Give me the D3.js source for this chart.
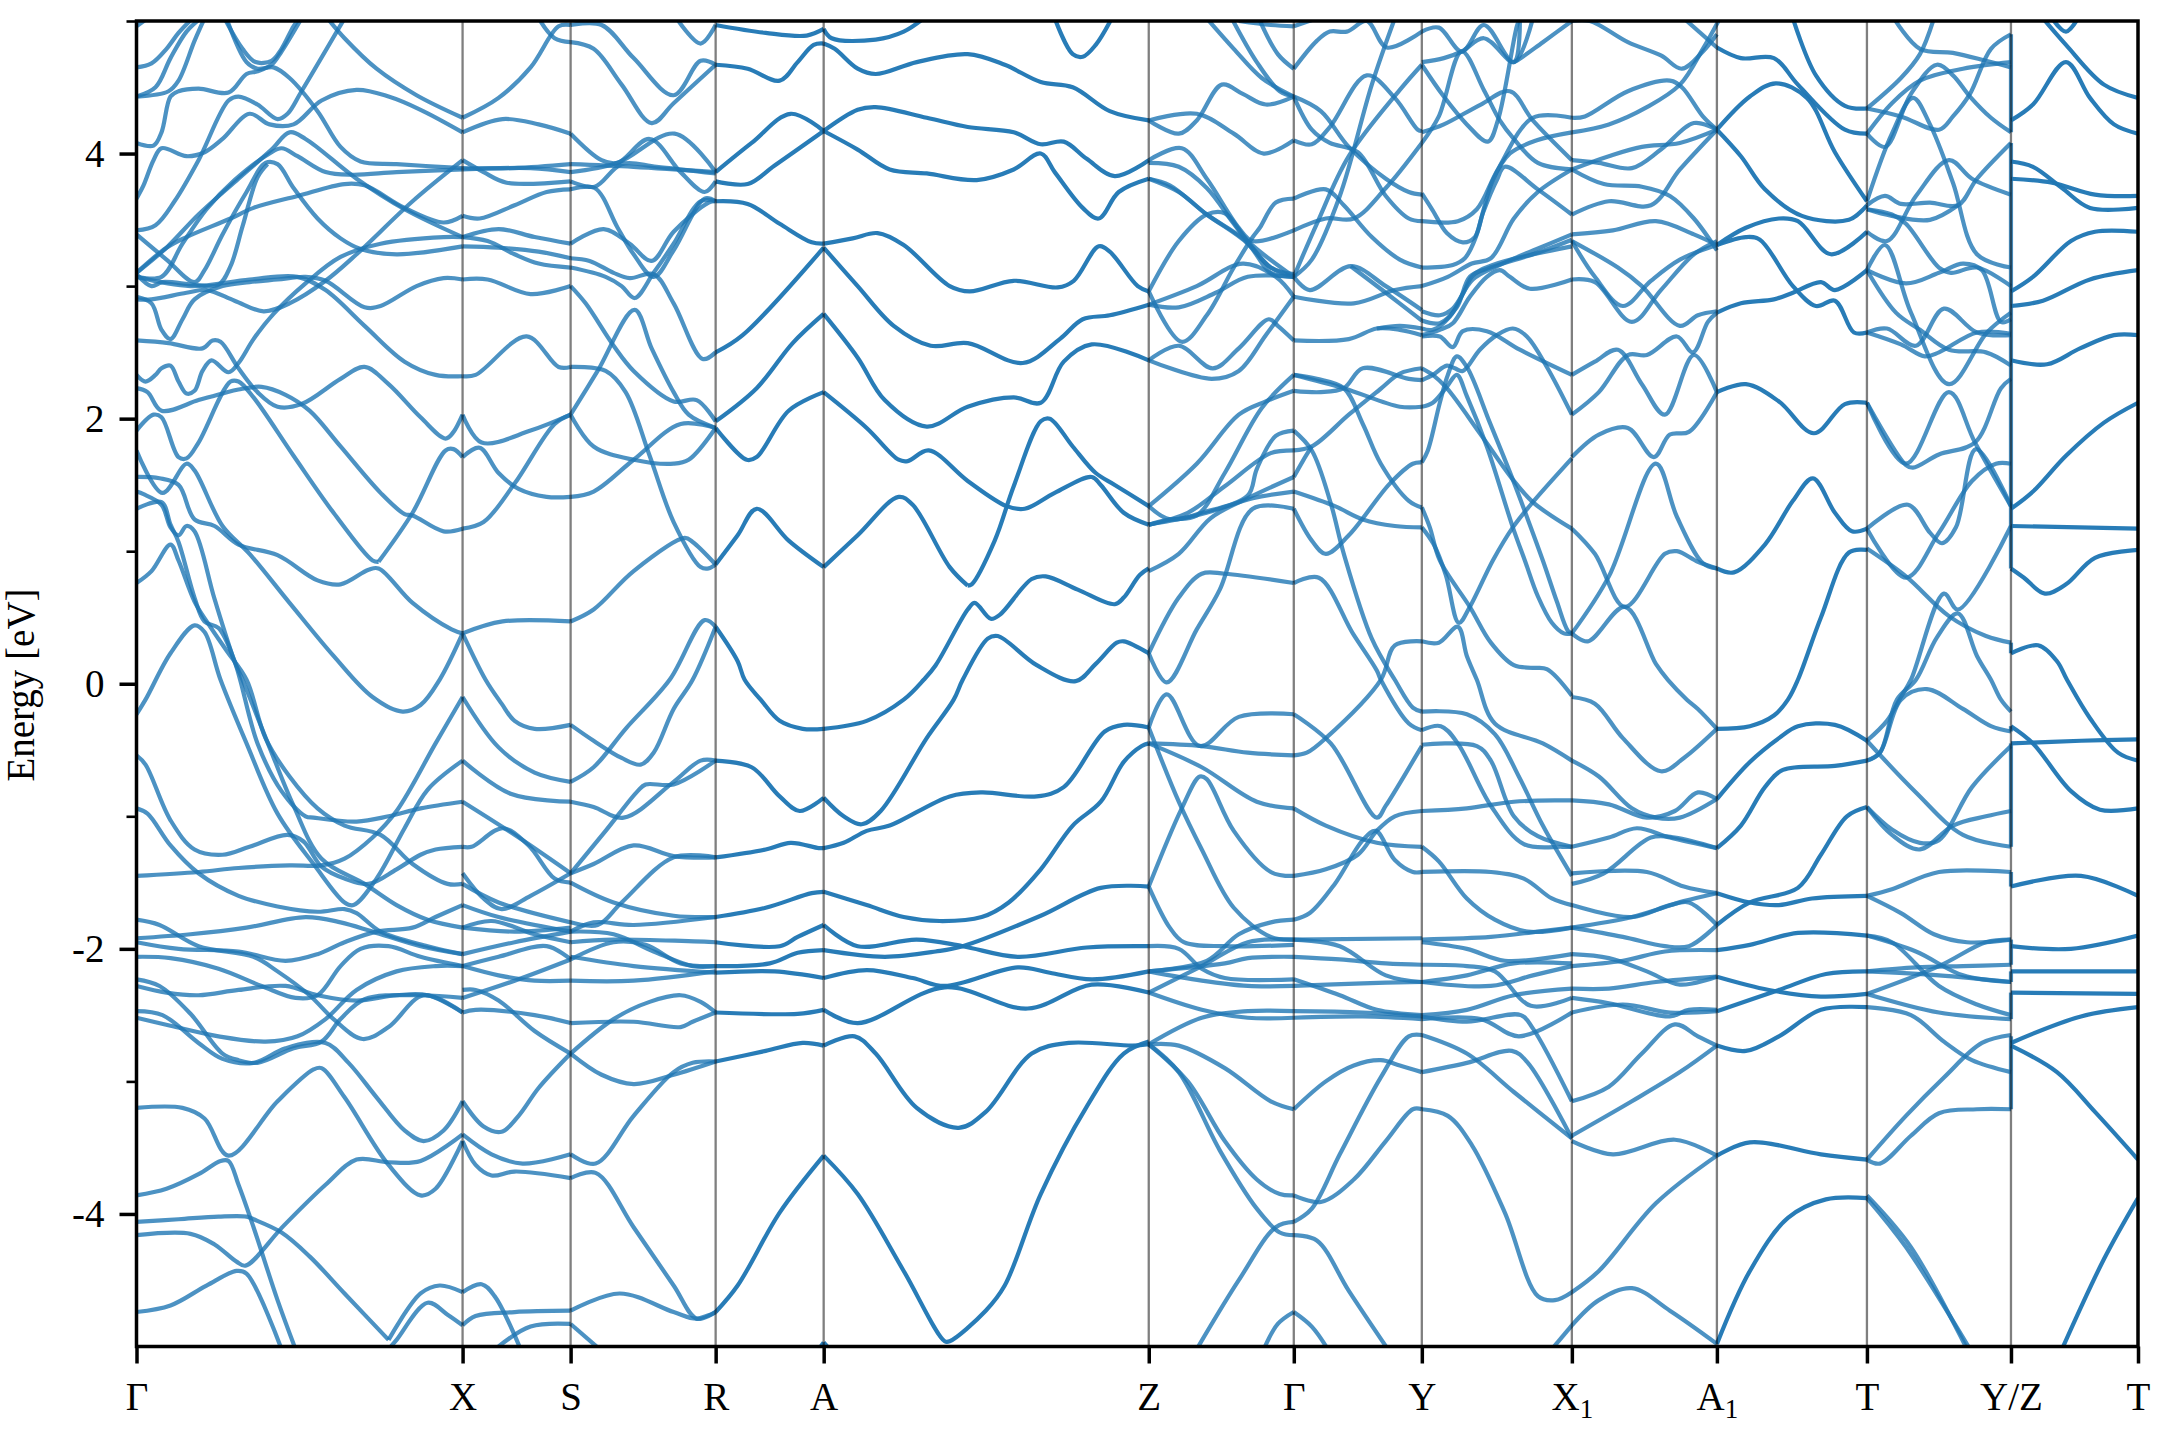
<!DOCTYPE html>
<html>
<meta charset="utf-8">
<head>
  <title>Band structure</title>
</head>
<style>
body { margin: 0; background: white; }
text { font-family: "Liberation Serif", serif; fill: black; }
.band { fill: none; stroke: rgb(31, 119, 180); stroke-width: 4.2; stroke-linejoin: round; }
.vline { stroke: black; stroke-opacity: 0.5; stroke-width: 2.3; }
.axis path { display: none; }
.axis line { stroke: black; stroke-width: 3.5; }
.minor line { stroke-width: 2.6; }
</style>
<body>
<svg width="2160" height="1440"></svg>
<script src="https://cdnjs.cloudflare.com/ajax/libs/d3/7.8.5/d3.min.js"></script>
<script>
// k path position of each symmetry point, and its label
var kTicks = [0, 326, 434, 579, 687, 1012, 1157, 1285, 1435, 1580, 1730, 1874, 2001];
var kLabels = ['Γ', 'X', 'S', 'R', 'A', 'Z', 'Γ', 'Y', 'X_1', 'A_1', 'T', 'Y/Z', 'T'];
var majorE = [-4, -2, 0, 2, 4];
var minorE = [-3, -1, 1, 3, 5];

// each band piece is a flat list: k, E, k, E, ...
var gammaX = [
[0,4.65,15,4.68,30,4.79,42,4.91,56,5.02],
[0,4.96,11,5.02],
[0,4.43,19,4.5,34,4.72,50,4.92,64,5.02],
[0,4.43,32,4.47,42,4.55,58,4.85,68,5.02],
[0,4.08,17,4.06,25,4.16,34,4.43,42,4.47,62,4.49,92,4.46,110,4.6,121,4.62,135,4.67,145,4.77,165,5.02],
[0,3.66,7,3.76,17,3.95,25,4.04,50,3.98,68,4.01,86,4.11,113,4.3,133,4.22,157,4.22,185,4.4,220,4.48,252,4.43,284,4.33,326,4.16],
[0,3.42,19,3.46,38,3.64,62,3.95,92,4.4,102,4.43,121,4.37,141,4.26,151,4.3,165,4.47,208,5.02],
[90,5.02,110,4.69,121,4.64,137,4.65,153,4.57,181,4.32,204,4.05,224,3.94,260,3.92,326,3.89],
[88,5.02,106,4.79,119,4.69,135,4.7,145,4.79,157,4.96,163,5.02],
[191,5.02,208,4.87,240,4.64,280,4.44,326,4.27],
[0,3.1,30,3.29,62,3.54,102,3.81,135,4.03,153,4.16,169,4.11,220,3.81,268,3.58,326,3.37],
[0,3.39,30,3.2,58,3.03,68,3.12,86,3.39,110,3.71,129,3.93,141,3.92,157,3.74,181,3.51,204,3.36,224,3.28,260,3.24,326,3.3],
[0,3.07,25,3.07,46,3.32,70,3.58,98,3.8,133,4,145,4.04,161,3.98,189,3.86,216,3.84,260,3.86,326,3.88],
[0,3.09,15,3,26,3.03,58,3.01,82,3.01,94,3.15,106,3.45,121,3.82,131,3.92],
[0,3.1,30,3.29,50,3.37,94,3.51,117,3.59,161,3.68,208,3.77,228,3.76,268,3.59,307,3.48,326,3.53],
[0,2.9,15,2.9,50,2.95,70,2.97,98,2.89,127,2.81,153,2.87,189,3.04,220,3.24,276,3.64,326,3.95],
[0,2.92,15,2.87,25,2.67,34,2.6,46,2.75,58,2.9,86,3,113,3.03,141,3.05,169,3.07,189,3.04,228,2.84,244,2.85,280,3,307,3.06,326,3.05],
[0,3.07,54,3,113,3.05,161,3.07,189,2.97,228,2.7,268,2.43,299,2.33,326,2.32],
[0,2.59,32,2.57,66,2.53,76,2.59,84,2.58,102,2.38,121,2.2,141,2.09,165,2.11,204,2.3,228,2.39,252,2.26,284,2.01,309,1.85,317,1.9,326,2.03],
[0,2.33,9,2.28,19,2.33,25,2.38,34,2.4,42,2.28,50,2.19,58,2.21,66,2.36,75,2.44,92,2.35,102,2.42,117,2.6,137,2.79,169,3.02,204,3.22,244,3.32,307,3.37,326,3.37],
[0,2.23,11,2.2,25,2.06,62,2.14,86,2.19,102,2.22,125,2.24,149,2.18,173,2.06,204,1.79,244,1.44,268,1.28,276,1.27,307,1.15,326,1.17],
[0,1.91,17,2.03,25,2.01,42,1.71,50,1.7,62,1.82,94,2.28,102,2.28,117,2.16,157,1.72,197,1.29,236,0.93,242,0.92],
[242,0.92,276,1.29,309,1.76,317,1.77,326,1.71],
[0,1.56,23,1.55,42,1.5,58,1.24,78,1.19,102,1.05,141,0.97,181,0.78,204,0.75,232,0.86,242,0.87,276,0.61,315,0.41,326,0.38],
[0,1.76,26,1.44,50,1.66,58,1.61,86,1.19,113,0.98,153,0.61,197,0.21,236,-0.1,266,-0.21,284,-0.16,303,0.03,326,0.38],
[0,1.45,7,1.43,25,1.35,34,1.18,42,1.12,50,1.19,58,1.15,78,0.64,98,0.17,106,0.03,133,-0.48,157,-0.92,185,-1.32,228,-1.51,260,-1.67,291,-1.78,326,-1.84],
[0,1.32,25,1.37,34,1.2,42,1.07,58,0.65,68,0.47,82,0.42,98,0.17,121,-0.45,145,-0.81,169,-1,177,-1.01,220,-1.04,252,-1,284,-0.94,326,-0.89],
[0,0.76,15,0.85,34,1.05,42,0.93,58,0.62,72,0.45,90,0.25,110,0.03,129,-0.41,153,-0.7,181,-0.94,208,-1.07,244,-1.14,276,-1.36,311,-1.51,326,-1.51],
[0,-0.23,9,-0.12,34,0.23,58,0.44,68,0.39,84,0.03,110,-0.45,141,-0.98,177,-1.36,208,-1.65,217,-1.67,240,-1.47,268,-1.09,291,-0.8,326,-0.58],
[0,-0.54,9,-0.61,34,-1.03,58,-1.25,86,-1.29,113,-1.23,151,-1.14,167,-1.19,185,-1.38,208,-1.47,232,-1.51,260,-1.4,284,-1.29,299,-1.25,326,-1.23],
[0,-1.45,62,-1.42,102,-1.39,153,-1.37,185,-1.37,208,-1.32,236,-1.16,260,-0.96,299,-0.45,326,-0.1],
[0,-0.94,11,-0.98,34,-1.22,62,-1.43,102,-1.6,141,-1.68,181,-1.72,208,-1.7,220,-1.73,244,-1.87,291,-1.98,326,-2.04],
[0,-1.78,23,-1.82,62,-1.98,117,-2.06,141,-2.17,173,-2.35,197,-2.53,226,-2.68,252,-2.59,287,-2.35,326,-2.48],
[0,-1.92,54,-1.89,110,-1.84,169,-1.76,204,-1.8,236,-1.87,284,-1.98,326,-2.04],
[0,-1.95,42,-2,102,-2.02,149,-2.09,181,-2.04,208,-1.95,240,-1.87,276,-1.84,299,-1.76,326,-1.67],
[0,-2.06,34,-2.07,82,-2.15,125,-2.28,159,-2.37,181,-2.35,204,-2.13,224,-2,252,-1.98,284,-2.06,326,-2.13],
[0,-2.23,23,-2.28,54,-2.49,86,-2.79,102,-2.84,121,-2.86,157,-2.75,185,-2.7,204,-2.53,228,-2.38,284,-2.35,326,-2.37],
[0,-2.28,30,-2.33,62,-2.35,102,-2.31,149,-2.28,181,-2.35,220,-2.39,260,-2.35,291,-2.35,326,-2.48],
[0,-2.47,26,-2.5,62,-2.71,86,-2.83,117,-2.86,149,-2.75,189,-2.71,212,-2.86,240,-3.12,268,-3.37,287,-3.45,307,-3.37,326,-3.15],
[0,-2.52,34,-2.58,82,-2.66,129,-2.7,161,-2.66,189,-2.53,220,-2.31,260,-2.17,299,-2.13,326,-2.13],
[0,-3.2,46,-3.2,68,-3.28,92,-3.56,141,-3.15,177,-2.91,185,-2.9,208,-3.12,252,-3.63,284,-3.86,299,-3.81,326,-3.45],
[0,-3.86,30,-3.81,62,-3.7,84,-3.6,92,-3.6,102,-3.78,117,-4.1,141,-4.65,159,-5.02],
[0,-4.06,42,-4.04,82,-4.02,110,-4.02,117,-4.04,145,-4.14,173,-4.32,208,-4.6,252,-4.95],
[252,-4.95,284,-4.6,303,-4.54,326,-4.59],
[0,-4.16,54,-4.15,78,-4.23,100,-4.36,109,-4.39,147,-4.09,189,-3.78,220,-3.59,252,-3.61,284,-3.6,326,-3.4],
[0,-4.74,34,-4.69,70,-4.54,100,-4.43,110,-4.45,145,-5.02],
[252,-5.02,260,-4.95,291,-4.67,311,-4.76,326,-4.84]
];

var xS = [
[402,5.02,418,4.87,434,4.84],
[326,4.27,362,4.42,394,4.65,422,4.96,434,4.97],
[326,4.16,366,4.26,402,4.22,434,4.15],
[326,3.89,378,3.89,434,3.92],
[326,3.88,394,3.89,434,3.86],
[326,3.95,347,3.86,370,3.78,434,3.79],
[326,3.53,343,3.51,378,3.61,410,3.71,434,3.73],
[326,3.37,362,3.43,398,3.37,434,3.32],
[326,3.37,351,3.34,378,3.24,402,3.17,434,3.14],
[326,3.3,362,3.29,402,3.26,434,3.21],
[326,3.05,351,3.05,394,2.94,434,3],
[326,2.32,339,2.33,390,2.62,422,2.39,434,2.39],
[326,2.03,345,1.82,394,1.91,434,2.03],
[326,1.71,343,1.78,362,1.59,382,1.47,410,1.41,434,1.41],
[326,1.17,347,1.22,378,1.51,418,1.96,434,2.03],
[326,0.38,366,0.47,434,0.47],
[326,0.38,349,0.03,365,-0.15,378,-0.28,398,-0.34,434,-0.31],
[326,-0.58,374,-0.83,434,-0.89],
[326,-0.1,362,-0.48,398,-0.67,434,-0.74],
[326,-0.89,378,-1.14,434,-1.43],
[326,-1.23,335,-1.23,366,-1.09,392,-1.22,418,-1.47,434,-1.5],
[326,-1.43,347,-1.62,365,-1.7,394,-1.6,434,-1.43],
[326,-1.51,362,-1.65,434,-1.8],
[326,-1.67,362,-1.76,434,-1.87],
[326,-1.84,355,-1.79,398,-1.89,434,-1.95],
[326,-1.84,378,-1.87,434,-1.84],
[326,-2.04,378,-1.95,434,-1.87],
[326,-2.13,362,-2.06,410,-1.98,434,-2.08],
[326,-2.13,362,-2.2,398,-2.24,434,-2.24],
[326,-2.31,339,-2.31,362,-2.39,398,-2.62,434,-2.79],
[326,-2.37,378,-2.24,434,-2.08],
[326,-2.48,339,-2.46,398,-2.5,434,-2.56],
[326,-3.15,347,-3.34,365,-3.38,382,-3.26,402,-3.05,434,-2.79],
[326,-3.4,355,-3.55,386,-3.62,434,-3.55],
[326,-3.45,339,-3.63,355,-3.71,378,-3.68,434,-3.73],
[326,-4.59,345,-4.53,358,-4.62,384,-5.02],
[326,-4.84,339,-4.77,378,-4.74,434,-4.73],
[362,-5,394,-4.85,434,-4.83]
];

var sR = [
[434,4.84,457,4.79,485,4.52,515,4.23,537,4.38,579,4.67],
[434,4.97,465,4.97,497,4.72,537,4.44,564,4.7,579,4.67],
[540,5.02,564,4.83,579,4.97],
[434,4.15,465,3.95,481,3.93,513,4.11,544,3.86,568,3.71,579,3.79],
[434,3.86,481,3.93,538,4.15,579,3.86],
[434,3.92,497,3.9,579,3.86],
[434,3.79,458,3.75,485,3.92,520,3.9,579,3.85],
[434,3.73,458,3.74,481,3.44,497,3.24,517,3.07,537,3.27,568,3.66,579,3.64],
[434,3.32,467,3.43,493,3.32,515,3.19,537,3.41,572,3.63,579,3.64],
[434,3.21,453,3.19,477,3.1,493,3.06,517,3.09,537,2.87,566,2.45,579,2.5],
[434,3.14,469,3.07,485,3,498,2.91,517,3.1,537,3.32,564,3.64,579,3.64],
[434,3,449,2.87,477,2.55,497,2.36,537,2.13,560,2.14,579,1.98],
[434,2.39,469,2.36,489,2.2,513,1.72,537,1.22,564,0.88,572,0.87,579,0.9],
[434,2.03,457,1.79,497,1.69,537,1.66,552,1.69,579,1.93],
[434,2.03,461,2.36,498,2.82,515,2.53,537,2.2,552,2.03,579,1.93],
[434,1.41,457,1.45,497,1.69,544,1.96,579,1.93],
[434,0.47,457,0.56,497,0.85,548,1.1,556,1.07,579,0.9],
[434,-0.74,457,-0.63,489,-0.34,533,0.03,568,0.48,579,0.43],
[434,-0.31,457,-0.43,485,-0.56,504,-0.61,517,-0.52,537,-0.19,556,0.03,579,0.43],
[434,-0.89,457,-0.93,487,-1.01,537,-0.74,564,-0.58,579,-0.58],
[434,-1.43,469,-1.11,501,-0.81,509,-0.76,537,-0.76,579,-0.58],
[434,-1.43,457,-1.36,497,-1.22,537,-1.3,579,-1.31],
[434,-1.5,477,-1.65,537,-1.75,579,-1.76],
[434,-1.8,461,-1.82,485,-1.65,537,-1.31,579,-1.31],
[434,-1.87,457,-1.8,497,-1.82,579,-1.76],
[434,-1.95,477,-1.93,579,-1.95],
[434,-1.87,477,-1.89,517,-2.02,556,-2.13,579,-2.13],
[434,-2.08,477,-1.95,509,-1.97,544,-2.11,579,-2.13],
[434,-2.06,497,-2.13,579,-2.18],
[434,-2.24,497,-2.24,579,-2.17],
[434,-2.56,497,-2.55,544,-2.59,556,-2.55,579,-2.48],
[434,-2.79,477,-2.53,513,-2.4,544,-2.35,564,-2.4,579,-2.48],
[434,-2.79,465,-2.95,497,-3.02,537,-2.95,579,-2.85],
[434,-3.55,459,-3.62,497,-3.26,537,-2.93,556,-2.86,579,-2.85],
[434,-3.73,459,-3.69,497,-4.1,537,-4.54,560,-4.79,579,-4.74],
[434,-4.73,483,-4.6,537,-4.74,560,-4.79,579,-4.74],
[434,-4.83,463,-5.02]
];

var rA = [
[579,4.97,629,4.91,670,4.89,687,4.94],
[579,4.67,611,4.64,643,4.55,661,4.69,677,4.82,687,4.83],
[579,3.86,615,4.08,654,4.3,687,4.17],
[579,3.79,611,3.77,638,3.91,687,4.17],
[579,3.64,611,3.62,643,3.47,675,3.33,687,3.32],
[579,2.5,606,2.63,687,3.29],
[579,1.98,620,2.23,656,2.57,687,2.79],
[579,1.93,610,1.69,620,1.71,652,2.06,687,2.2],
[579,0.9,601,1.12,620,1.32,652,1.08,687,0.88],
[579,0.43,601,0.17,608,0.03,624,-0.12,643,-0.28,666,-0.34,687,-0.34],
[579,-0.58,615,-0.63,643,-0.85,663,-0.96,687,-0.86],
[579,-1.31,629,-1.25,654,-1.2,682,-1.24,687,-1.24],
[579,-1.76,629,-1.69,675,-1.58,687,-1.57],
[579,-1.95,643,-1.98,661,-1.91,687,-1.82],
[579,-2.13,633,-2.11,661,-2.03,687,-2.01],
[579,-2.18,638,-2.17,687,-2.22],
[579,-2.48,661,-2.49,687,-2.46],
[579,-2.85,629,-2.77,666,-2.71,687,-2.73],
[579,-4.74,601,-4.54,643,-3.99,687,-3.56],
[682,-5.02,687,-4.97]
];

var aZ = [
[687,-4.97,693,-5.02],
[687,4.94,695,4.87,739,4.86,767,4.92,787,5.02],
[687,4.83,698,4.79,721,4.64,739,4.6,780,4.69,831,4.75,868,4.67,904,4.54,936,4.5,973,4.32,1012,4.25],
[918,5.02,936,4.75,946,4.73,959,4.82,975,5.02],
[687,4.17,721,4.33,739,4.35,790,4.27,831,4.2,877,4.16,904,4.07,927,4.09,950,3.96,978,3.83,1012,3.95],
[687,4.17,721,4.03,753,3.88,790,3.85,840,3.8,877,3.88,904,4,918,3.86,946,3.59,962,3.51,982,3.71,1012,3.81],
[687,3.32,716,3.36,741,3.4,767,3.31,813,3,833,2.96,877,3.04,921,2.99,937,3.04,962,3.3,973,3.26,1001,3,1012,2.96],
[687,3.29,721,3,757,2.7,794,2.55,831,2.57,886,2.42,923,2.6,946,2.75,973,2.78,1012,2.86],
[687,2.79,721,2.46,748,2.14,790,1.94,831,2.09,877,2.16,904,2.12,927,2.43,955,2.56,1012,2.44],
[687,2.2,730,1.93,762,1.69,771,1.68,792,1.76,831,1.53,870,1.34,888,1.32,918,1.44,955,1.56,964,1.5,987,1.29,1012,1.2],
[831,0.74,835,0.75,858,1.08,877,1.49,904,1.98,913,2,936,1.79,959,1.59,978,1.5,1012,1.34],
[687,0.88,721,1.12,762,1.41,776,1.35,813,0.88,831,0.74],
[687,-0.34,730,-0.28,767,-0.12,787,0.03,799,0.14,831,0.56,838,0.61,854,0.49,863,0.52,895,0.79,909,0.81,941,0.71,978,0.6,987,0.65,1003,0.82,1012,0.87],
[687,-0.86,707,-1,725,-1.06,744,-0.96,790,-0.41,817,-0.12,826,0.03,851,0.34,861,0.36,900,0.14,939,0.02,959,0.15,980,0.31,987,0.32,1012,0.23],
[687,-1.24,707,-1.2,730,-1.11,753,-1.07,813,-0.85,845,-0.82,900,-0.85,927,-0.78,968,-0.36,987,-0.31,1012,-0.33],
[687,-1.57,730,-1.67,767,-1.76,803,-1.79,845,-1.76,872,-1.65,904,-1.4,936,-1.07,964,-0.89,987,-0.59,1005,-0.47,1012,-0.45],
[687,-1.82,721,-1.98,780,-1.93,826,-1.98,881,-2.06,950,-1.99,1012,-1.98],
[687,-2.01,748,-2.06,799,-2.02,826,-1.98,904,-1.75,964,-1.54,1012,-1.53],
[687,-2.22,730,-2.16,776,-2.22,808,-2.28,881,-2.14,913,-2.18,955,-2.23,1012,-2.17],
[687,-2.46,721,-2.56,808,-2.29,891,-2.45,955,-2.27,1012,-2.33],
[687,-2.73,718,-2.66,739,-2.79,780,-3.2,822,-3.35,849,-3.23,895,-2.79,932,-2.71,996,-2.73,1012,-2.72],
[687,-3.56,721,-3.85,767,-4.43,808,-4.96,813,-4.96,849,-4.73,868,-4.54,904,-3.85,950,-3.19,987,-2.79,1012,-2.7]
];

var zGamma = [
[1070,5.02,1097,4.79,1125,4.57,1157,4.43],
[1095,5.02,1120,4.69,1143,4.47,1157,4.43],
[1122,5.02,1141,4.75,1157,4.64],
[1102,5,1134,4.97,1157,4.96],
[1012,4.25,1042,4.15,1060,4.25,1085,4.52,1106,4.45,1129,4.37,1157,4.43],
[1012,4.25,1060,4.3,1097,4.15,1127,4,1157,4.1],
[1012,3.95,1045,4.04,1070,3.81,1102,3.44,1116,3.34,1157,3.42],
[1012,3.93,1042,3.9,1070,3.74,1097,3.47,1118,3.27,1134,3.14,1157,3.07],
[1012,3.81,1042,3.71,1070,3.54,1111,3.32,1134,3.1,1157,3.07],
[1012,3.81,1033,3.76,1070,3.54,1106,3.36,1134,3.14,1157,3.09],
[1012,2.96,1042,3.34,1070,3.54,1088,3.55,1111,3.34,1157,3.07],
[1012,2.96,1045,2.58,1070,2.78,1097,3.14,1116,3.37,1123,3.44,1139,3.63,1157,3.66],
[1012,2.86,1042,2.84,1079,2.95,1111,3.07,1157,3.07],
[1012,2.86,1060,3,1106,3.17,1139,3.07,1157,2.92],
[1012,2.44,1042,2.55,1076,2.38,1102,2.53,1132,2.75,1141,2.7,1157,2.59],
[1012,2.44,1075,2.3,1102,2.36,1129,2.63,1157,2.92],
[1012,1.34,1060,1.66,1102,2.03,1129,2.13,1157,2.21],
[1012,1.2,1033,1.24,1060,1.27,1088,1.59,1125,2.08,1157,2.33],
[1012,1.2,1051,1.29,1088,1.49,1134,1.74,1157,1.76],
[1012,1.34,1033,1.24,1065,1.29,1111,1.42,1120,1.62,1139,1.87,1157,1.91],
[1012,1.2,1065,1.28,1116,1.4,1157,1.45],
[1012,0.85,1042,0.98,1074,1.25,1111,1.4,1157,1.56],
[1012,0.23,1042,0.65,1065,0.83,1088,0.83,1157,0.76],
[1012,0.23,1030,0.01,1060,0.41,1083,0.71,1116,1.32,1157,1.32],
[1012,-0.33,1030,-0.08,1063,-0.47,1102,-0.25,1157,-0.23],
[1012,-0.45,1065,-0.47,1111,-0.52,1157,-0.54],
[1012,-0.33,1042,-0.89,1065,-1.25,1097,-1.69,1134,-1.91,1157,-1.93],
[1012,-0.45,1065,-0.63,1120,-0.89,1157,-0.94],
[1012,-1.53,1045,-0.94,1063,-0.7,1070,-0.72,1097,-1.11,1134,-1.42,1157,-1.45],
[1012,-1.53,1033,-1.84,1047,-1.95,1088,-1.98,1157,-1.97],
[1012,-1.98,1042,-2,1065,-2.15,1088,-2.22,1157,-2.23],
[1012,-2.17,1065,-2.24,1111,-2.28,1157,-2.28],
[1012,-2.17,1070,-2.09,1102,-1.89,1134,-1.8,1157,-1.78],
[1012,-2.33,1065,-2.13,1111,-1.95,1157,-1.93],
[1012,-2.17,1088,-2.11,1111,-2.07,1157,-2.06],
[1012,-2.33,1065,-2.46,1111,-2.52,1157,-2.52],
[1012,-2.72,1065,-2.52,1111,-2.47,1157,-2.47],
[1012,-2.72,1042,-2.73,1088,-2.9,1134,-3.15,1157,-3.21],
[1012,-2.72,1051,-3,1088,-3.45,1120,-3.74,1143,-3.85,1157,-3.86],
[1012,-2.72,1042,-2.93,1083,-3.52,1120,-3.96,1143,-4.14,1157,-4.16],
[1060,-5.02,1102,-4.5,1139,-4.1,1157,-4.06],
[1127,-5.02,1141,-4.83,1157,-4.74]
];

var gammaY = [
[1157,4.96,1180,5.02],
[1157,4.64,1180,4.85,1193,4.92,1210,4.92,1230,5,1250,4.8,1285,4.92],
[1157,4.43,1184,4.32,1212,4.05,1249,3.81,1272,3.71,1285,3.69],
[1157,4.43,1175,4.18,1193,4.08,1221,4.01,1249,3.68,1272,3.51,1285,3.49],
[1157,4.1,1175,4.07,1193,4.2,1230,4.59,1258,4.42,1281,4.18,1285,4.17],
[1157,3.66,1189,3.73,1207,3.61,1235,3.37,1263,3.2,1285,3.14],
[1157,3.42,1189,3.51,1217,3.51,1249,3.74,1285,4.08],
[1157,3.07,1180,3.47,1212,3.98,1263,4.48,1285,4.67],
[1157,3.07,1175,3.2,1203,3.68,1235,4.52,1258,5.02],
[1157,3.07,1173,2.97,1214,3.15,1249,3,1285,2.82],
[1214,3.15,1249,2.95,1285,2.74],
[1157,2.92,1217,2.87,1258,2.97,1285,3],
[1157,2.59,1212,2.6,1240,2.68,1263,2.67,1285,2.63],
[1240,2.68,1263,2.7,1285,2.68],
[1157,2.21,1184,2.2,1207,2.23,1226,2.38,1272,2.3,1285,2.29],
[1157,2.33,1207,2.23,1263,2.09,1285,2.09],
[1157,1.76,1175,1.79,1212,2.03,1243,2.22,1263,2.34,1285,2.38],
[1157,2.33,1180,2.3,1207,2.23,1226,1.96,1244,1.66,1272,1.38,1285,1.33],
[1157,1.56,1166,1.68,1175,1.79],
[1157,1.91,1175,1.76,1194,1.36,1207,0.98,1235,0.34,1258,0.03,1276,-0.18,1285,-0.21],
[1157,1.45,1198,1.34,1226,1.24,1258,1.19,1285,1.18],
[1157,1.32,1175,1.08,1189,0.98,1212,1.12,1253,1.51,1276,1.66,1285,1.67],
[1157,0.76,1182,0.8,1216,0.38,1240,0.1,1244,0.03,1272,-0.3,1285,-0.35],
[1157,-0.23,1194,-0.45,1240,-1.01,1249,-0.92,1285,-0.47],
[1157,-0.54,1170,-0.52,1189,-0.41,1244,0.03,1258,0.29,1285,0.32],
[1157,-0.94,1189,-1.07,1240,-1.2,1285,-1.23],
[1157,-1.45,1189,-1.4,1221,-1.29,1240,-1.11,1258,-1,1285,-0.96],
[1157,-1.78,1173,-1.73,1198,-1.51,1226,-1.18,1239,-1.11,1258,-1.33,1276,-1.42,1285,-1.42],
[1157,-1.93,1285,-1.92],
[1157,-1.93,1203,-1.98,1249,-2.2,1285,-2.25],
[1157,-2.06,1203,-2.08,1249,-2.11,1285,-2.12],
[1157,-2.23,1203,-2.35,1240,-2.46,1285,-2.5],
[1157,-2.28,1226,-2.26,1285,-2.25],
[1157,-2.47,1226,-2.48,1285,-2.51],
[1157,-2.52,1226,-2.51,1285,-2.53],
[1157,-3.21,1189,-3,1217,-2.88,1244,-2.84,1263,-2.88,1285,-2.93],
[1157,-4.06,1175,-3.96,1203,-3.55,1244,-2.97,1272,-2.66,1285,-2.65],
[1157,-3.86,1184,-3.91,1217,-3.74,1249,-3.45,1276,-3.21,1285,-3.21],
[1157,-4.16,1180,-4.2,1212,-4.58,1251,-5.02],
[1157,-4.74,1175,-4.85,1191,-5.02]
];

var yX1 = [
[1285,4.92,1302,4.95,1325,4.77,1347,4.97,1377,4.69,1396,5.02],
[1285,4.69,1307,4.72,1325,4.77,1347,4.87,1377,4.69,1383,5.02],
[1377,4.69,1380,4.7,1406,4.84,1435,5],
[1285,4.67,1307,4.43,1330,4.22,1351,4.09,1361,4.25,1380,4.96,1383,5.02],
[1285,4.16,1307,4.22,1344,4.37,1373,4.47,1396,4.25,1435,3.95],
[1285,4.08,1302,4.28,1325,4.77,1347,4.48,1363,4.25,1377,4.11,1401,3.93,1435,3.88],
[1285,3.7,1296,3.57,1310,3.4,1326,3.33,1338,3.37,1346,3.55,1360,3.8,1368,3.9,1401,3.73,1435,3.54],
[1285,3.49,1321,3.49,1340,3.58,1361,3.88,1396,4.27,1435,4.27],
[1285,3.14,1316,3.16,1328,3.21,1338,3.35,1356,3.8,1373,4,1400,4.1,1435,4.16],
[1285,3,1311,3.07,1335,3.17,1354,3.21,1377,3.51,1401,3.71,1435,3.88],
[1285,2.81,1303,2.78,1316,2.83,1336,3.05,1363,3.16,1400,3.28,1435,3.39],
[1285,2.74,1303,2.72,1320,2.84,1333,3.07,1350,3.13,1400,3.25,1435,3.35],
[1285,2.68,1296,2.67,1313,2.77,1326,2.94,1336,3.08,1356,3.16,1435,3.3],
[1285,2.63,1303,2.67,1316,2.72,1333,2.92,1350,3.07,1363,3.12,1373,3.07,1393,2.98,1435,3.05],
[1285,2.62,1303,2.62,1316,2.54,1326,2.66,1350,2.66,1383,2.52,1435,2.33],
[1285,2.38,1296,2.33,1310,2.23,1343,1.89,1376,1.54,1396,1.37,1416,1.26,1435,1.17],
[1285,2.29,1296,2.33,1310,2.4,1318,2.38,1326,2.36,1343,2.52,1360,2.63,1376,2.68,1390,2.62,1410,2.39,1435,2.03],
[1285,2.09,1296,2.12,1310,2.24,1320,2.33,1330,2.17,1350,1.79,1376,1.18,1388,0.93,1401,0.66,1415,0.46,1427,0.38,1435,0.38],
[1285,1.67,1291,1.76,1303,2.12,1311,2.33,1320,2.47,1330,2.39,1353,1.97,1376,1.54,1390,1.26,1406,0.93,1420,0.62,1431,0.4,1435,0.38],
[1285,1.18,1297,1.05,1309,0.82,1322,0.46,1333,0.58,1356,0.93,1376,1.18,1396,1.37,1435,1.7],
[1285,1.33,1293,1.18,1303,0.93,1333,0.58,1354,0.31,1377,0.14,1396,0.12,1410,0.11,1435,-0.09],
[1285,0.32,1302,0.31,1321,0.43,1330,0.21,1340,0.03,1358,-0.3,1406,-0.45,1435,-0.58],
[1285,-0.21,1330,-0.23,1358,-0.38,1382,-0.7,1406,-1.07,1435,-1.45],
[1285,-0.35,1304,-0.32,1321,-0.45,1354,-0.92,1387,-1.21,1425,-1.23,1435,-1.23],
[1285,-0.46,1340,-0.47,1354,-0.58,1377,-1,1401,-1.15,1435,-1.23],
[1285,-0.96,1330,-0.94,1377,-0.89,1425,-0.88,1435,-0.88],
[1285,-1.23,1302,-1.34,1330,-1.62,1358,-1.78,1391,-1.87,1435,-1.84],
[1285,-1.42,1354,-1.42,1387,-1.47,1415,-1.62,1435,-1.67],
[1285,-1.93,1354,-1.91,1401,-1.87,1435,-1.84],
[1285,-1.95,1330,-2,1368,-2.09,1435,-2.04],
[1285,-2.12,1330,-2.13,1358,-2.17,1394,-2.43,1435,-2.37],
[1285,-2.25,1354,-2.28,1396,-2.2,1435,-2.13],
[1285,-2.25,1330,-2.2,1377,-2.11,1435,-2.11],
[1285,-2.5,1330,-2.46,1377,-2.35,1435,-2.3],
[1285,-2.51,1330,-2.55,1384,-2.5,1396,-2.6,1435,-3.15],
[1285,-2.53,1344,-2.53,1382,-2.66,1435,-2.48],
[1285,-2.65,1330,-2.79,1377,-3.08,1435,-3.43],
[1285,-2.93,1330,-2.86,1375,-2.77,1391,-2.86,1435,-3.43],
[1285,-3.21,1311,-3.26,1335,-3.48,1368,-3.99,1401,-4.62,1418,-4.65,1435,-4.59],
[1415,-5.02,1435,-4.84]
];

var x1A1 = [
[1435,5,1453,5,1491,4.84,1524,4.74,1545,4.64,1566,4.77,1580,4.9],
[1435,4.27,1448,4.28,1491,4.47,1533,4.55,1545,4.5,1566,4.28,1580,4.18],
[1435,4.16,1472,4.22,1510,4.35,1543,4.52,1566,4.79,1583,5.02],
[1547,5.02,1580,4.8],
[1435,3.95,1462,3.93,1495,3.89,1524,4.03,1557,4.23,1580,4.18],
[1435,3.88,1472,3.98,1505,4.05,1543,4.08,1580,4.18],
[1435,3.88,1467,3.77,1505,3.75,1533,3.68,1557,3.51,1580,3.27],
[1435,3.54,1472,3.64,1514,3.61,1543,3.88,1580,4.18],
[1435,3.39,1476,3.42,1519,3.49,1557,3.39,1580,3.31],
[1435,3.34,1481,3.14,1505,3,1543,2.7,1561,2.78,1580,2.81],
[1435,3.34,1458,3.07,1486,2.85,1514,3.04,1543,3.2,1580,3.31],
[1435,3.05,1458,3.03,1495,2.73,1524,2.97,1557,3.24,1580,3.34],
[1435,2.33,1458,2.43,1481,2.52,1505,2.26,1528,2.03,1557,2.48,1580,2.2],
[1435,2.03,1462,2.2,1491,2.48,1510,2.48,1540,2.62,1556,2.5,1571,2.73,1580,2.8],
[1435,1.71,1462,1.88,1491,1.93,1517,1.71,1533,1.88,1552,1.9,1580,2.2],
[1435,1.17,1458,0.98,1488,0.58,1528,0.98,1540,1,1561,0.92,1580,0.87],
[1435,0.38,1472,0.81,1519,1.66,1540,1.26,1566,0.91,1580,0.87],
[1435,0.38,1451,0.32,1488,0.58,1519,0.15,1531,0.03,1550,-0.12,1561,-0.19,1580,-0.34],
[1435,-0.1,1458,-0.15,1486,-0.41,1524,-0.66,1547,-0.56,1580,-0.34],
[1435,-0.58,1462,-0.7,1495,-0.94,1519,-1.01,1543,-1.01,1580,-0.87],
[1435,-0.88,1472,-0.91,1510,-1.01,1538,-0.96,1561,-0.82,1580,-0.87],
[1435,-1.23,1472,-1.16,1500,-1.09,1533,-1.16,1580,-1.24],
[1435,-1.51,1467,-1.43,1514,-1.16,1538,-1.16,1580,-1.24],
[1435,-1.43,1510,-1.42,1547,-1.53,1580,-1.58],
[1435,-1.67,1495,-1.76,1533,-1.67,1552,-1.65,1580,-1.82],
[1435,-1.84,1495,-1.76,1547,-1.64,1580,-1.58],
[1435,-1.84,1486,-1.91,1528,-1.98,1552,-1.98,1580,-1.82],
[1435,-2.04,1472,-2.07,1510,-2.17,1543,-2.27,1580,-2.21],
[1435,-2.13,1486,-2.09,1528,-2.02,1580,-2.01],
[1435,-2.3,1472,-2.3,1519,-2.25,1580,-2.21],
[1435,-2.37,1472,-2.41,1533,-2.51,1552,-2.46,1580,-2.46],
[1435,-2.48,1486,-2.42,1533,-2.48,1580,-2.47],
[1435,-3.15,1472,-3.04,1505,-2.79,1538,-2.57,1561,-2.66,1580,-2.73],
[1435,-3.41,1495,-3.15,1543,-2.93,1580,-2.73],
[1435,-3.45,1476,-3.55,1538,-3.44,1580,-3.56],
[1435,-4.59,1462,-4.43,1519,-3.92,1580,-3.56],
[1435,-4.84,1462,-4.65,1495,-4.56,1533,-4.73,1580,-4.98]
];

var a1T = [
[1580,4.8,1604,4.72,1637,4.72,1661,4.52,1708,4.18,1730,4.15],
[1580,4.18,1613,4.43,1639,4.53,1670,4.42,1698,4.01,1730,3.64],
[1656,5.02,1679,4.59,1708,4.36,1730,4.34],
[1580,4.18,1604,3.98,1628,3.73,1665,3.53,1712,3.5,1730,3.61],
[1580,3.31,1609,3.44,1642,3.51,1661,3.49,1694,3.24,1730,3.41],
[1580,3.31,1609,3.37,1623,3.35,1656,3,1679,2.85,1698,2.89,1717,2.65,1730,2.65],
[1580,2.8,1604,2.87,1637,2.9,1656,2.95,1684,3.03,1698,2.97,1730,3.12],
[1580,2.2,1609,2.26,1642,2.13,1677,1.89,1708,2.11,1730,2.12],
[1580,0.87,1597,0.84,1628,1.05,1656,1.38,1676,1.55,1698,1.29,1715,1.15,1730,1.17],
[1580,-0.34,1613,-0.32,1637,-0.24,1651,-0.12,1661,0.03,1684,0.5,1712,0.99,1730,1.01],
[1580,-0.87,1613,-0.59,1642,-0.41,1661,-0.32,1698,-0.31,1730,-0.43],
[1580,-1.24,1604,-1.07,1628,-0.78,1646,-0.65,1698,-0.62,1730,-0.58],
[1580,-1.58,1613,-1.65,1642,-1.67,1675,-1.62,1730,-1.6],
[1580,-1.82,1613,-1.65,1661,-1.54,1684,-1.29,1710,-1,1730,-0.93],
[1580,-2.01,1613,-1.97,1661,-1.88,1730,-1.9],
[1580,-2.21,1632,-2.31,1684,-2.36,1730,-2.34],
[1580,-2.47,1642,-2.31,1689,-2.19,1730,-2.17],
[1580,-2.73,1609,-2.77,1642,-2.66,1684,-2.46,1730,-2.44],
[1580,-3.56,1613,-3.46,1684,-3.55,1730,-3.59],
[1580,-4.98,1613,-4.43,1651,-4.03,1689,-3.89,1730,-3.88]
];

var tY = [
[1730,4.34,1764,4.57,1783,4.75,1797,5.02],
[1757,5.02,1783,4.79,1816,4.76,1849,4.7,1874,4.65],
[1730,4.34,1764,4.28,1802,4.18,1816,4.28,1833,4.45,1854,4.79,1874,4.9],
[1730,4.15,1755,4.38,1783,4.55,1826,4.64,1874,4.69],
[1730,4.15,1748,4.05,1774,4.45,1800,4.67,1816,4.59,1833,4.43,1854,4.27,1874,4.16],
[1730,3.64,1755,4.15,1776,4.42,1793,4.22,1816,3.78,1840,3.24,1874,3.14],
[1730,3.61,1748,3.68,1764,3.62,1793,3.63,1821,3.61,1840,3.81,1874,4.08],
[1730,3.58,1755,3.53,1793,3.5,1821,3.61],
[1730,3.41,1750,3.34,1779,3.68,1812,3.95,1835,3.81,1874,3.69],
[1730,3.58,1755,3.54,1769,3.47,1802,3.14,1814,3.1,1840,3.14,1874,3],
[1730,3.12,1769,3.02,1802,3.1,1826,3.17,1845,3.12,1864,2.73,1874,2.75],
[1730,2.65,1764,2.56,1788,2.47,1802,2.5,1840,2.65,1874,2.64],
[1730,2.65,1750,2.68,1779,2.55,1807,2.83,1840,2.65,1874,2.63],
[1730,3.12,1759,2.8,1783,2.67,1812,2.52,1849,2.5,1874,2.4],
[1730,3.12,1748,3.31,1774,2.8,1812,2.26,1850,2.65,1874,2.8],
[1730,2.12,1769,1.65,1776,1.63,1802,1.73,1838,1.82,1864,2.23,1874,2.3],
[1730,2.12,1769,1.66,1812,2.2,1838,1.82,1874,1.34],
[1730,1.17,1771,1.35,1793,1.14,1805,1.06,1819,1.18,1839,1.77,1874,1.34],
[1730,1.17,1769,0.8,1802,1.14,1835,1.53,1859,1.66,1874,1.66],
[1730,1.02,1769,0.81,1812,0.51,1849,0.36,1874,0.31],
[1730,-0.43,1750,-0.28,1764,-0.1,1774,0.03,1807,0.68,1821,0.56,1874,1.19],
[1730,-0.58,1743,-0.52,1760,-0.12,1779,0.03,1800,0.35,1821,0.53,1840,0.21,1854,0.03,1864,-0.12,1874,-0.21],
[1730,-0.43,1779,-0.82,1826,-1.14,1874,-1.23],
[1730,-0.58,1743,-0.52,1764,-0.12,1790,-0.04,1826,-0.19,1854,-0.32,1874,-0.36],
[1730,-0.93,1755,-1.14,1783,-1.25,1816,-1.07,1849,-1,1874,-0.96],
[1730,-0.93,1755,-1.1,1783,-1.2,1802,-1.18,1835,-0.78,1874,-0.47],
[1730,-1.6,1755,-1.55,1802,-1.42,1874,-1.42],
[1730,-1.6,1764,-1.73,1797,-1.89,1830,-1.95,1874,-1.93],
[1730,-1.9,1779,-2.02,1826,-2.2,1874,-2.25],
[1730,-1.9,1755,-1.95,1802,-2.28,1840,-2.42,1874,-2.5],
[1730,-2.17,1779,-2.14,1826,-2.13,1874,-2.12],
[1730,-2.17,1802,-2.2,1874,-2.25],
[1730,-2.34,1802,-2.13,1849,-1.95,1874,-1.93],
[1730,-2.34,1802,-2.48,1874,-2.53],
[1730,-2.44,1774,-2.5,1807,-2.7,1835,-2.84,1874,-2.93],
[1730,-3.59,1769,-3.26,1807,-2.97,1845,-2.71,1874,-2.65],
[1730,-3.59,1743,-3.62,1774,-3.41,1802,-3.24,1840,-3.21,1874,-3.21],
[1730,-3.88,1769,-4.25,1833,-5.02],
[1730,-3.86,1774,-4.25,1830,-5.02]
];

var zT = [
[1906,5.02,1929,4.82,1967,4.52,2001,4.42],
[1915,5.02,1929,4.92,1941,5.02],
[1874,4.25,1896,4.37,1929,4.69,1953,4.42,1977,4.22,2001,4.15],
[1874,3.94,1896,3.9,1925,3.74,1953,3.59,2001,3.59],
[1874,3.81,1915,3.78,1958,3.69,2001,3.68],
[1874,2.96,1896,3.07,1934,3.34,1958,3.41,2001,3.41],
[1874,2.85,1906,2.89,1953,3.05,2001,3.12],
[1874,2.44,1910,2.41,1943,2.53,1977,2.63,2001,2.63],
[1874,1.32,1896,1.45,1929,1.72,1967,1.97,2001,2.12],
[1874,1.19,2001,1.17],
[1874,0.87,1887,0.8,1908,0.68,1929,0.75,1958,0.95,2001,1.01],
[1874,0.23,1901,0.29,1920,0.17,1930,0.03,1953,-0.26,1981,-0.52,2001,-0.58],
[1874,-0.32,1896,-0.45,1934,-0.81,1963,-0.95,2001,-0.94],
[1874,-0.45,1944,-0.43,2001,-0.42],
[1874,-1.53,1944,-1.45,2001,-1.6],
[1874,-1.98,1934,-2,2001,-1.9],
[1874,-2.17,2001,-2.17],
[1874,-2.33,2001,-2.34],
[1874,-2.71,1944,-2.51,2001,-2.44],
[1874,-2.73,1920,-2.93,1958,-3.23,2001,-3.59],
[1925,-5.02,1967,-4.34,2001,-3.88]
];

// the path jumps at Y/Z, so the bands draw straight up that line
var jumpYZ = [[-3.21,-2.66],[-2.53,-2.33],[-2.25,-2.17],[-2.12,-1.93],[-1.53,-1.42],[-1.23,-0.45],[-0.36,-0.32],[0.23,0.31],[0.87,4.08],[4.16,4.9]];

var panels = [
  {bands: gammaX, opacity: 0.8}, {bands: xS, opacity: 0.8}, {bands: sR, opacity: 0.8},
  {bands: rA, opacity: 0.96}, {bands: aZ, opacity: 0.96}, {bands: zGamma, opacity: 0.8},
  {bands: gammaY, opacity: 0.8}, {bands: yX1, opacity: 0.8}, {bands: x1A1, opacity: 0.8},
  {bands: a1T, opacity: 0.96}, {bands: tY, opacity: 0.8}, {bands: zT, opacity: 0.96}
];

var left = 136.5, right = 2138, top_ = 21, bottom = 1346.5;
var svg = d3.select('svg');
var x = d3.scaleLinear().domain([0, 2001]).range([left, right]);
var y = d3.scaleLinear().domain([-5, 5]).range([bottom, top_]);

svg.append('clipPath').attr('id', 'plot').append('rect')
  .attr('x', left).attr('y', top_).attr('width', right - left).attr('height', bottom - top_);

var plot = svg.append('g').attr('clip-path', 'url(#plot)');

function toPoints(flat) {
  var pts = [];
  for (var i = 0; i < flat.length; i += 2) pts.push([flat[i], flat[i + 1]]);
  return pts;
}

var line = d3.line()
  .x(function(d) { return x(d[0]); })
  .y(function(d) { return y(d[1]); })
  .curve(d3.curveCatmullRom.alpha(0.5));

panels.forEach(function(p) {
  plot.append('g').selectAll('path')
    .data(p.bands)
    .enter()
    .append('path')
    .attr('class', 'band')
    .attr('stroke-opacity', p.opacity)
    .attr('d', function(d) { return line(toPoints(d)); });
});

plot.append('g').selectAll('line')
  .data(jumpYZ)
  .enter()
  .append('line')
  .attr('class', 'band')
  .attr('stroke-opacity', 0.8)
  .attr('x1', x(1874)).attr('x2', x(1874))
  .attr('y1', function(d) { return y(d[0]); })
  .attr('y2', function(d) { return y(d[1]); });

plot.append('g').selectAll('line')
  .data(kTicks.slice(1, -1))
  .enter()
  .append('line')
  .attr('class', 'vline')
  .attr('x1', function(d) { return x(d); })
  .attr('x2', function(d) { return x(d); })
  .attr('y1', top_).attr('y2', bottom);

// axes
var xAxis = svg.append('g')
  .attr('class', 'axis')
  .attr('transform', 'translate(0,' + bottom + ')')
  .call(d3.axisBottom(x).tickValues(kTicks).tickSize(17).tickSizeOuter(0).tickFormat(''));

xAxis.selectAll('.tick text').each(function(d, i) {
  var t = d3.select(this).attr('font-size', 39).attr('dy', 0).attr('y', 63).attr('fill', 'black').text(null);
  var parts = kLabels[i].split('_');
  t.append('tspan').text(parts[0]);
  if (parts[1]) t.append('tspan').attr('font-size', 27).attr('dy', 8).text(parts[1]);
});

var yAxis = svg.append('g')
  .attr('class', 'axis')
  .attr('transform', 'translate(' + left + ',0)')
  .call(d3.axisLeft(y).tickValues(majorE).tickSize(17).tickSizeOuter(0).tickFormat(d3.format('d')));

yAxis.selectAll('.tick text')
  .attr('font-size', 39)
  .attr('x', -32)
  .attr('dy', 13)
  .attr('fill', 'black')
  .text(function(d) { return String(d); });

svg.append('g')
  .attr('class', 'axis minor')
  .attr('transform', 'translate(' + left + ',0)')
  .call(d3.axisLeft(y).tickValues(minorE).tickSize(10).tickSizeOuter(0).tickFormat(''));

svg.append('rect')
  .attr('x', left).attr('y', top_).attr('width', right - left).attr('height', bottom - top_)
  .attr('fill', 'none').attr('stroke', 'black').attr('stroke-width', 3.5);

svg.append('text')
  .attr('transform', 'translate(34,685) rotate(-90)')
  .attr('text-anchor', 'middle')
  .attr('font-size', 39)
  .text('Energy [eV]');
</script>
</body>
</html>
